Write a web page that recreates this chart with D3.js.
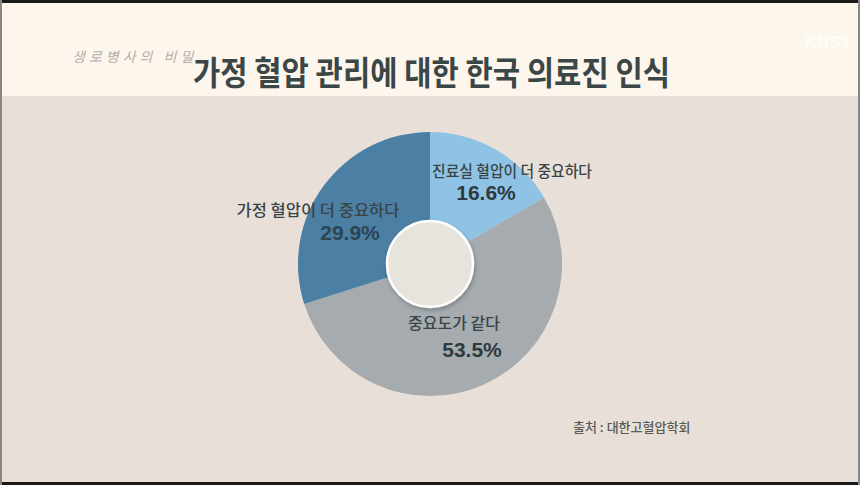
<!DOCTYPE html>
<html><head><meta charset="utf-8">
<script src="https://cdn.jsdelivr.net/npm/d3@7/dist/d3.min.js"></script>
<style>
html,body{margin:0;padding:0;background:#e8e0d8;}
svg{display:block;}
</style></head>
<body>
<script>
const title = "가정 혈압 관리에 대한 한국 의료진 인식";
const categories = ["진료실 혈압이 더 중요하다", "중요도가 같다", "가정 혈압이 더 중요하다"];
const values = [16.6, 53.5, 29.9];
const valueLabels = ["16.6%", "53.5%", "29.9%"];
const colors = ["#8fc3e5", "#a5abaf", "#4b7fa3"];
const source = "출처 : 대한고혈압학회";

const W = 860, H = 485;
const svg = d3.select("body").append("svg").attr("width", W).attr("height", H);

// background
svg.append("rect").attr("x",0).attr("y",0).attr("width",W).attr("height",H).attr("fill","#e8e0d8");
svg.append("rect").attr("x",0).attr("y",0).attr("width",W).attr("height",96).attr("fill","#fdf6ed");
svg.append("rect").attr("x",0).attr("y",0).attr("width",W).attr("height",3).attr("fill","#1a1a1a");
svg.append("rect").attr("x",0).attr("y",482).attr("width",W).attr("height",3).attr("fill","#1a1a1a");
svg.append("rect").attr("x",0).attr("y",0).attr("width",2).attr("height",H).attr("fill","#8a8580");
svg.append("rect").attr("x",858).attr("y",0).attr("width",2).attr("height",H).attr("fill","#8a8580");

// logo + watermark
svg.append("text").attr("x",72).attr("y",62).attr("font-family","'Noto Sans CJK KR'")
  .attr("font-size",14).attr("fill","#b5afa9").attr("font-style","italic")
  .attr("letter-spacing",4).text("생로병사의 비밀");
svg.append("text").attr("x",805).attr("y",48).attr("font-family","'Liberation Sans'").attr("font-weight","bold")
  .attr("font-size",17).attr("fill","#ffffff").attr("opacity",0.75).text("KBS1");

// title
svg.append("text").attr("x",193).attr("y",85)
  .attr("font-family","'Noto Sans CJK KR'").attr("font-weight","bold")
  .attr("font-size",33).attr("fill","#3b4646")
  .attr("textLength",477).attr("lengthAdjust","spacingAndGlyphs")
  .text(title);

// donut
const cx = 430, cy = 264, R = 132, r0 = 43;
const g = svg.append("g").attr("transform",`translate(${cx},${cy})`);
const pie = d3.pie().sort(null).value(d => d)(values);
const arc = d3.arc().innerRadius(0).outerRadius(R);
g.selectAll("path.slice").data(pie).enter().append("path")
  .attr("class","slice").attr("d",arc).attr("fill",(d,i)=>colors[i]);

// inner circle with light rim & shadow
const defs = svg.append("defs");
const f = defs.append("filter").attr("id","sh").attr("x","-30%").attr("y","-30%").attr("width","160%").attr("height","160%");
f.append("feDropShadow").attr("dx",1).attr("dy",2).attr("stdDeviation",2).attr("flood-color","#000").attr("flood-opacity",0.25);
g.append("circle").attr("r",r0).attr("fill","#e7e3dd").attr("stroke","#ffffff").attr("stroke-width",2.5).attr("filter","url(#sh)");

// labels
const catPos = [[512,177],[454,329],[318,216]];
const valPos = [[486,200],[472,357],[350,240]];
categories.forEach((c,i)=>{
  svg.append("text").attr("x",catPos[i][0]).attr("y",catPos[i][1]).attr("text-anchor","middle")
    .attr("font-family","'Noto Sans CJK KR'").attr("font-weight",500).attr("font-size",15.5).attr("fill","#3a4447")
    .attr("textLength", [160,92,163][i]).attr("lengthAdjust","spacingAndGlyphs")
    .text(c);
  svg.append("text").attr("x",valPos[i][0]).attr("y",valPos[i][1]).attr("text-anchor","middle")
    .attr("font-family","'Liberation Sans', Arial, sans-serif").attr("font-weight","bold")
    .attr("font-size",21).attr("fill", i===2?"#2d4455":"#2f3a3e").text(valueLabels[i]);
});

// source
svg.append("text").attr("x",573).attr("y",432)
  .attr("font-family","'Noto Sans CJK KR'").attr("font-weight",500).attr("font-size",13).attr("fill","#5a5a56")
  .text(source);
</script>
</body></html>
